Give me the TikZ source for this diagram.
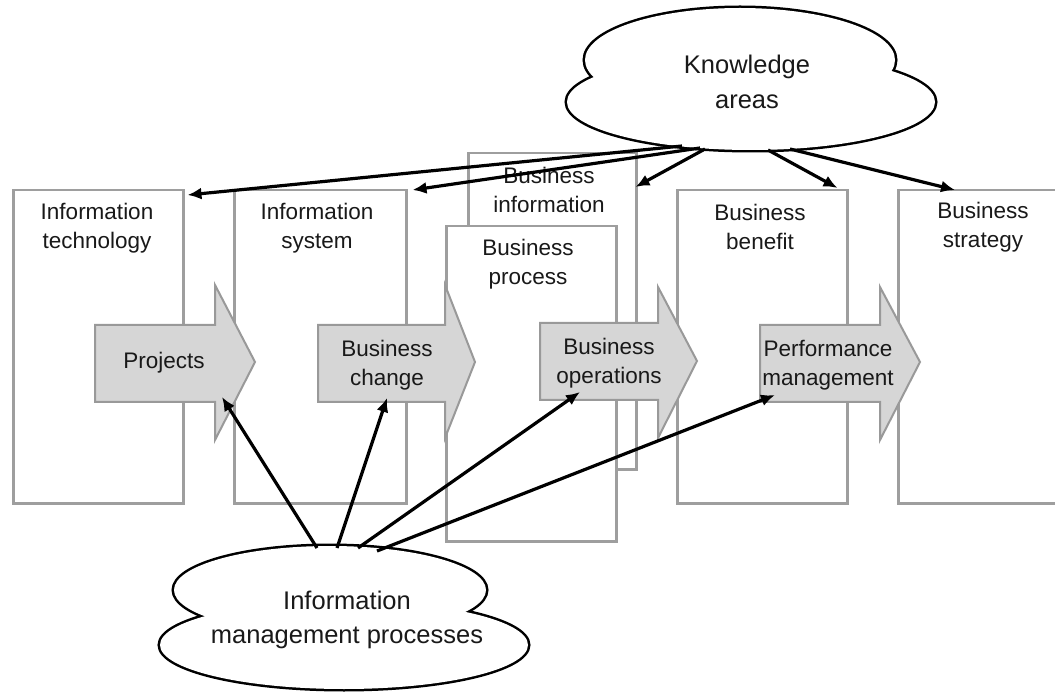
\documentclass[tikz,border=0pt]{standalone}
\usepackage{fontspec}
\setmainfont{Liberation Sans}
\usetikzlibrary{arrows.meta}
\begin{document}
\begin{tikzpicture}[x=1pt,y=-1pt,
  panel/.style={draw=black!38, line width=2.5pt, fill=white, anchor=north west, inner sep=0pt},
  flow/.style={draw=black!40, line width=2pt, fill=black!16, line join=miter},
  boxtext/.style={font=\fontsize{22.5}{29.5}\selectfont, align=center, text=black!90, inner sep=0pt},
  cloudtext/.style={font=\fontsize{25.5}{34.5}\selectfont, align=center, text=black!90, inner sep=0pt},
  puff/.style={draw=black, line width=5pt},
  link/.style={line width=3.2pt, -{Latex[length=14pt,width=12pt]}},
]
\clip (0,0) rectangle (1055,692);
\fill[white] (0,0) rectangle (1055,692);

% the six domain panels
\node[panel, minimum width=170pt, minimum height=313pt] (it)     at (12,189)  {};
\node[panel, minimum width=172pt, minimum height=313pt] (is)     at (233,189) {};
\node[panel, minimum width=168pt, minimum height=316pt] (binfo)  at (467,152) {};
\node[panel, minimum width=170pt, minimum height=315pt] (bproc)  at (445,225) {};
\node[panel, minimum width=170pt, minimum height=313pt] (bben)   at (676,189) {};
\node[panel, minimum width=200pt, minimum height=313pt] (bstrat) at (897,189) {};

\node[boxtext] (itl)     at (97,228)  {Information\\technology};
\node[boxtext] (isl)     at (317,228) {Information\\system};
\node[boxtext] (binfol)  at (549,190) {Business\\information};
\node[boxtext] (bprocl)  at (528,264) {Business\\process};
\node[boxtext] (bbenl)   at (760,227) {Business\\benefit};
\node[boxtext] (bstratl) at (983,227) {Business\\strategy};

% block arrows linking the panels
\draw[flow] (95,325) -- (215,325) -- (215,285) -- (255,362) -- (215,440) -- (215,402) -- (95,402) -- cycle;
\draw[flow] (318,325) -- (445,325) -- (445,285) -- (475,362) -- (445,438) -- (445,402) -- (318,402) -- cycle;
\draw[flow] (540,323) -- (658,323) -- (658,287) -- (697,361) -- (658,438) -- (658,400) -- (540,400) -- cycle;
\draw[flow] (760,325) -- (880,325) -- (880,287) -- (920,362) -- (880,440) -- (880,402) -- (760,402) -- cycle;

\node[boxtext] (proj) at (164,363) {Projects};
\node[boxtext] (bch)  at (387,365) {Business\\change};
\node[boxtext] (bop)  at (609,363) {Business\\operations};
\node[boxtext] (perf) at (828,365) {Performance\\management};

% knowledge cloud: two overlapping lobes, outer outline only
\draw[puff] (740,60) ellipse [x radius=155pt, y radius=52pt];
\draw[puff] (751,102) ellipse [x radius=184pt, y radius=48pt];
\fill[white] (740,60) ellipse [x radius=155pt, y radius=52pt];
\fill[white] (751,102) ellipse [x radius=184pt, y radius=48pt];
\node[cloudtext] (know) at (747,82) {Knowledge\\areas};

% process cloud
\draw[puff] (330,590) ellipse [x radius=156pt, y radius=44pt];
\draw[puff] (344,645) ellipse [x radius=184pt, y radius=44pt];
\fill[white] (330,590) ellipse [x radius=156pt, y radius=44pt];
\fill[white] (344,645) ellipse [x radius=184pt, y radius=44pt];
\node[cloudtext] (imp) at (347,620) {Information\\management processes};

% start points on the cloud outlines
\coordinate (k-it) at (682,146);
\coordinate (k-is) at (700,148);
\coordinate (k-bi) at (705,149);
\coordinate (k-bb) at (768,150);
\coordinate (k-bs) at (790,149);
\coordinate (i-proj) at (317,548);
\coordinate (i-bch)  at (337,548);
\coordinate (i-bop)  at (358,548);
\coordinate (i-perf) at (377,551);

\draw[link] (k-it) -- ([shift={(3,6)}]it.north east);
\draw[link] (k-is) -- ([shift={(5,1)}]is.north east);
\draw[link] (k-bi) -- ([shift={(-2,35)}]binfo.north east);
\draw[link] (k-bb) -- ([shift={(-11,-1)}]bben.north east);
\draw[link] (k-bs) -- ([shift={(58,1)}]bstrat.north west);

\draw[link] (i-proj) -- ([shift={(58,34)}]proj.center);
\draw[link] (i-bch)  -- ([shift={(0,33)}]bch.center);
\draw[link] (i-bop)  -- ([shift={(-29,29)}]bop.center);
\draw[link] (i-perf) -- ([shift={(-53,30)}]perf.center);
\end{tikzpicture}
\end{document}
